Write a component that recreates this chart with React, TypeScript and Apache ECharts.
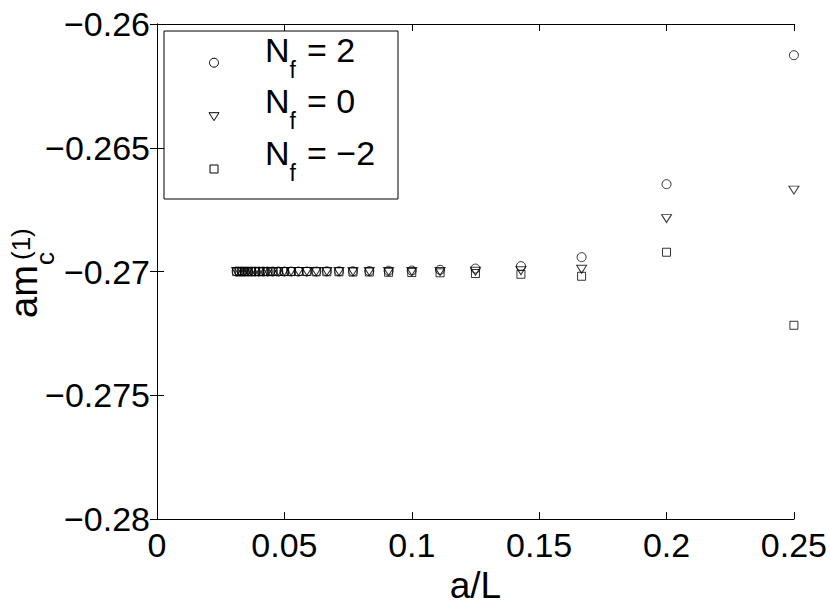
import React, { useEffect, useRef } from "react";
import * as echarts from "echarts";

// lattice sizes L (x = a/L)
const latticeSizes = [4, 5, 6, 7, 8, 9, 10, 11, 12, 13, 14, 15, 16, 17, 18, 19, 20, 21, 22, 23, 24, 25, 26, 27, 28, 29, 30, 31, 32];

// a m_c^(1) for N_f = 2
const nfPlus2 = [
  -0.26126, -0.26647, -0.26942, -0.26978, -0.26988, -0.26993, -0.26996, -0.26997, -0.26998, -0.26999,
  -0.26999, -0.26999, -0.27, -0.27, -0.27, -0.27, -0.27, -0.27, -0.27, -0.27,
  -0.27, -0.27, -0.27, -0.27, -0.27, -0.27, -0.27, -0.27, -0.27,
];
// N_f = 0
const nfZero = [
  -0.26671, -0.26786, -0.26991, -0.26997, -0.26999, -0.27, -0.27, -0.27, -0.27, -0.27,
  -0.27, -0.27, -0.27, -0.27, -0.27, -0.27, -0.27, -0.27, -0.27, -0.27,
  -0.27, -0.27, -0.27, -0.27, -0.27, -0.27, -0.27, -0.27, -0.27,
];
// N_f = -2
const nfMinus2 = [
  -0.27217, -0.26922, -0.27019, -0.27011, -0.27008, -0.27005, -0.27004, -0.27003, -0.27002, -0.27002,
  -0.27001, -0.27001, -0.27001, -0.27, -0.27, -0.27, -0.27, -0.27, -0.27, -0.27,
  -0.27, -0.27, -0.27, -0.27, -0.27, -0.27, -0.27, -0.27, -0.27,
];

const legendNames = ["2", "0", "\u22122"];

const FONT = "'Liberation Sans', Arial, Helvetica, sans-serif";
const C = 0.3465; // central-baseline offset ratio

const fmt = (v: number) => {
  const s = String(+v.toFixed(4));
  return s.replace("-", "\u2212");
};

export default function App() {
  const ref = useRef<HTMLDivElement>(null);
  useEffect(() => {
    if (!ref.current) return;
    const chart = echarts.init(ref.current, undefined, { renderer: "svg" });
    const pts = (arr: number[]) => arr.map((v, i) => [1 / latticeSizes[i], v]);
    const markerStyle = { color: "rgba(0,0,0,0)", borderColor: "#000", borderWidth: 1 };
    const axisLine = { show: true, lineStyle: { color: "#000", width: 1 } };
    const tick = { show: true, inside: true, length: 7, lineStyle: { color: "#000" } };
    const labelStyle = { color: "#000", fontSize: 34, fontFamily: FONT };

    const nBase = [61.7, 112.9, 164.7];
    const markerY = [62.7, 116.7, 169];
    const legendTexts: any[] = [];
    nBase.forEach((b, i) => {
      legendTexts.push({
        type: "text",
        style: { text: "N", x: 265, y: b - C * 34, fontSize: 34, fontFamily: FONT, fill: "#000", align: "left", verticalAlign: "middle" },
      });
      legendTexts.push({
        type: "text",
        style: { text: "f", x: 289.5, y: b + 16 - C * 23, fontSize: 23, fontFamily: FONT, fill: "#000", align: "left", verticalAlign: "middle" },
      });
      legendTexts.push({
        type: "text",
        style: { text: "= " + legendNames[i], x: 307, y: b - C * 34, fontSize: 34, fontFamily: FONT, fill: "#000", align: "left", verticalAlign: "middle" },
      });
    });

    chart.setOption({
      animation: false,
      backgroundColor: "#fff",
      grid: { left: 157, right: 33, top: 24, bottom: 81, containLabel: false },
      xAxis: [
        {
          type: "value", min: 0, max: 0.25, interval: 0.05, position: "bottom",
          axisLine, axisTick: tick, splitLine: { show: false },
          axisLabel: { ...labelStyle, margin: 9, formatter: fmt },
          name: "a/L", nameLocation: "middle", nameGap: 41,
          nameTextStyle: { color: "#000", fontSize: 37, fontFamily: FONT },
        },
        {
          type: "value", min: 0, max: 0.25, interval: 0.05, position: "top",
          axisLine, axisTick: tick, splitLine: { show: false }, axisLabel: { show: false },
        },
      ],
      yAxis: [
        {
          type: "value", min: -0.28, max: -0.26, interval: 0.005, position: "left",
          axisLine, axisTick: tick, splitLine: { show: false },
          axisLabel: { ...labelStyle, margin: 7, formatter: fmt },
        },
        {
          type: "value", min: -0.28, max: -0.26, interval: 0.005, position: "right",
          axisLine, axisTick: tick, splitLine: { show: false }, axisLabel: { show: false },
        },
      ],
      series: [
        { name: "N_f = 2", type: "scatter", symbol: "circle", symbolSize: 9, data: pts(nfPlus2), itemStyle: markerStyle },
        { name: "N_f = 0", type: "scatter", symbol: "triangle", symbolRotate: 180, symbolSize: [10, 8], data: pts(nfZero), itemStyle: markerStyle },
        { name: "N_f = -2", type: "scatter", symbol: "rect", symbolSize: 8, data: pts(nfMinus2), itemStyle: markerStyle },
      ],
      graphic: [
        {
          type: "group", x: 37, y: 318, rotation: Math.PI / 2,
          children: [
            { type: "text", style: { text: "am", x: 0, y: -C * 38, fontSize: 38, fontFamily: FONT, fill: "#000", align: "left", verticalAlign: "middle" } },
            { type: "text", style: { text: "c", x: 53, y: 17 - C * 26, fontSize: 26, fontFamily: FONT, fill: "#000", align: "left", verticalAlign: "middle" } },
            { type: "text", style: { text: "(1)", x: 58, y: -7 - C * 26, fontSize: 26, fontFamily: FONT, fill: "#000", align: "left", verticalAlign: "middle" } },
          ],
        },
        {
          type: "group", z: 100,
          children: [
            { type: "rect", shape: { x: 164, y: 31, width: 234, height: 168 }, style: { fill: "#fff", stroke: "#000", lineWidth: 1 } },
            { type: "circle", shape: { cx: 214, cy: markerY[0], r: 4.5 }, style: { fill: "none", stroke: "#000", lineWidth: 1 } },
            { type: "polygon", shape: { points: [[209, markerY[1] - 4], [219, markerY[1] - 4], [214, markerY[1] + 4]] }, style: { fill: "none", stroke: "#000", lineWidth: 1 } },
            { type: "rect", shape: { x: 210, y: markerY[2] - 4, width: 8, height: 8 }, style: { fill: "none", stroke: "#000", lineWidth: 1 } },
            ...legendTexts,
          ],
        },
      ],
    });
    return () => chart.dispose();
  }, []);
  return <div ref={ref} style={{ position: "absolute", left: 0, top: 0, width: 830, height: 609 }} />;
}
